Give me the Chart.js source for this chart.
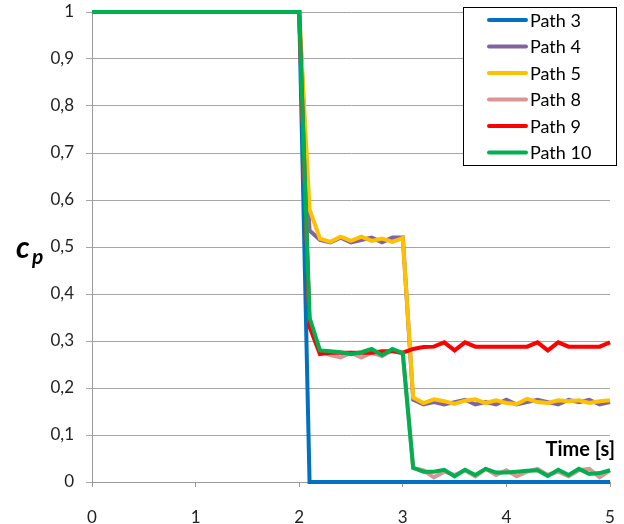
<!DOCTYPE html>
<html>
<head>
<meta charset="utf-8">
<script src="https://cdn.jsdelivr.net/npm/chart.js@4"></script>
<style>
html,body{margin:0;padding:0;background:#fff;}
#wrap{width:624px;height:524px;position:relative;}
</style>
</head>
<body>
<div id="wrap"><canvas id="c" width="624" height="524"></canvas></div>
<script>
const times = [0,0.1,0.2,0.3,0.4,0.5,0.6,0.7,0.8,0.9,1,1.1,1.2,1.3,1.4,1.5,1.6,1.7,1.8,1.9,2,
  2.1,2.2,2.3,2.4,2.5,2.6,2.7,2.8,2.9,3,3.1,3.2,3.3,3.4,3.5,3.6,3.7,3.8,3.9,4,
  4.1,4.2,4.3,4.4,4.5,4.6,4.7,4.8,4.9,5];
const seriesNames = ['Path 3','Path 4','Path 5','Path 8','Path 9','Path 10'];
const seriesColors = ['#0070C0','#8064A2','#FFC000','#D99694','#FF0000','#00B050'];
const ones = [1,1,1,1,1,1,1,1,1,1,1,1,1,1,1,1,1,1,1,1,1];
const path3 = ones.concat([0,0,0,0,0,0,0,0,0,0, 0,0,0,0,0,0,0,0,0,0, 0,0,0,0,0,0,0,0,0,0]);
const path4 = ones.concat([0.535,0.515,0.51,0.52,0.51,0.515,0.52,0.51,0.52,0.52,
  0.175,0.165,0.17,0.165,0.17,0.175,0.165,0.17,0.165,0.175,0.165,0.17,0.175,0.17,0.165,0.175,0.17,0.175,0.165,0.17]);
const path5 = ones.concat([0.58,0.518,0.511,0.522,0.513,0.522,0.513,0.518,0.511,0.519,
  0.18,0.168,0.176,0.172,0.166,0.173,0.176,0.168,0.174,0.168,0.166,0.177,0.17,0.168,0.174,0.172,0.174,0.168,0.172,0.174]);
const path8 = ones.concat([0.34,0.28,0.27,0.265,0.275,0.265,0.275,0.268,0.28,0.272,
  0.03,0.025,0.01,0.022,0.015,0.025,0.012,0.028,0.015,0.025,0.012,0.022,0.028,0.015,0.022,0.012,0.025,0.028,0.01,0.025]);
const path9 = ones.concat([0.33,0.272,0.275,0.275,0.275,0.275,0.275,0.278,0.278,0.275,
  0.283,0.287,0.288,0.297,0.28,0.297,0.288,0.288,0.288,0.288,0.288,0.288,0.297,0.28,0.297,0.288,0.288,0.288,0.288,0.297]);
const path10 = ones.concat([0.35,0.28,0.278,0.276,0.272,0.276,0.283,0.27,0.283,0.274,
  0.03,0.022,0.022,0.026,0.012,0.026,0.015,0.028,0.02,0.02,0.022,0.024,0.025,0.013,0.026,0.015,0.028,0.017,0.019,0.025]);
const seriesValues = [path3,path4,path5,path8,path9,path10];
const yTickValues = [0,0.1,0.2,0.3,0.4,0.5,0.6,0.7,0.8,0.9,1];
const yTickLabels = ['0','0,1','0,2','0,3','0,4','0,5','0,6','0,7','0,8','0,9','1'];
const xTickLabels = ['0','1','2','3','4','5'];

const FONT = 'Lato, "Open Sans", sans-serif';

const datasets = seriesNames.map((n,i)=>({
  label:n,
  data: times.map((t,k)=>({x:t,y:seriesValues[i][k]})),
  borderColor: seriesColors[i],
  backgroundColor: seriesColors[i],
  borderWidth: 4,
  pointRadius: 0,
  tension: 0,
  fill: false,
  clip: false,
  order: seriesNames.length - i,
  borderJoinStyle:'miter'
}));

const overlay = {
  id:'overlay',
  afterDraw(chart){
    const ctx = chart.ctx;
    ctx.save();
    // legend
    const bx=463, by=7, bw=153, bh=158;
    ctx.fillStyle='#fff';
    ctx.fillRect(bx,by,bw,bh);
    ctx.strokeStyle='#000';
    ctx.lineWidth=1;
    ctx.strokeRect(bx+0.5,by+0.5,bw,bh);
    seriesNames.forEach((n,i)=>{
      const yy = 20 + i*26.5;
      ctx.strokeStyle = seriesColors[i];
      ctx.lineWidth = 4;
      ctx.lineCap='round';
      ctx.beginPath(); ctx.moveTo(489,yy); ctx.lineTo(526,yy); ctx.stroke();
      ctx.fillStyle='#000';
      ctx.font = '18px ' + FONT;
      ctx.textBaseline='middle';
      ctx.textAlign='left';
      ctx.fillText(n, 530, yy+1);
    });
    // y axis title c_p
    ctx.fillStyle='#000';
    ctx.textBaseline='alphabetic';
    ctx.textAlign='left';
    ctx.font = 'italic bold 30px ' + FONT;
    ctx.fillText('c', 16, 258);
    ctx.font = 'italic bold 21px ' + FONT;
    ctx.fillText('p', 32, 264);
    // x axis title
    ctx.font = 'bold 20px ' + FONT;
    ctx.textAlign='right';
    ctx.textBaseline='middle';
    ctx.fillText('Time [s]', 615, 450);
    ctx.restore();
  }
};

new Chart(document.getElementById('c'),{
  type:'line',
  data:{datasets},
  options:{
    responsive:false,
    animation:false,
    layout:{padding:{top:12,right:14,left:0,bottom:0}},
    plugins:{legend:{display:false},tooltip:{enabled:false}},
    scales:{
      x:{
        type:'linear', min:0, max:5,
        afterFit(s){ s.height = 42; s.paddingLeft = 0; s.paddingRight = 0; },
        afterBuildTicks(s){ s.ticks = xTickLabels.map((l,i)=>({value:i})); },
        ticks:{ padding:20, color:'#222', font:{family:FONT,size:17},
          callback:(v,i)=>xTickLabels[i] },
        grid:{ drawOnChartArea:false, drawTicks:true, tickLength:5, color:'#999' },
        border:{ color:'#999', width:1 }
      },
      y:{
        min:0, max:1,
        afterFit(s){ s.width = 92; s.paddingTop = 0; s.paddingBottom = 0; },
        afterBuildTicks(s){ s.ticks = yTickValues.map(v=>({value:v})); },
        ticks:{ padding:12, color:'#222', font:{family:FONT,size:17},
          callback:(v,i)=>yTickLabels[i] },
        grid:{ color:'#a6a6a6', lineWidth:1, tickLength:6 },
        border:{ color:'#999', width:1 }
      }
    }
  },
  plugins:[overlay]
});
</script>
</body>
</html>
